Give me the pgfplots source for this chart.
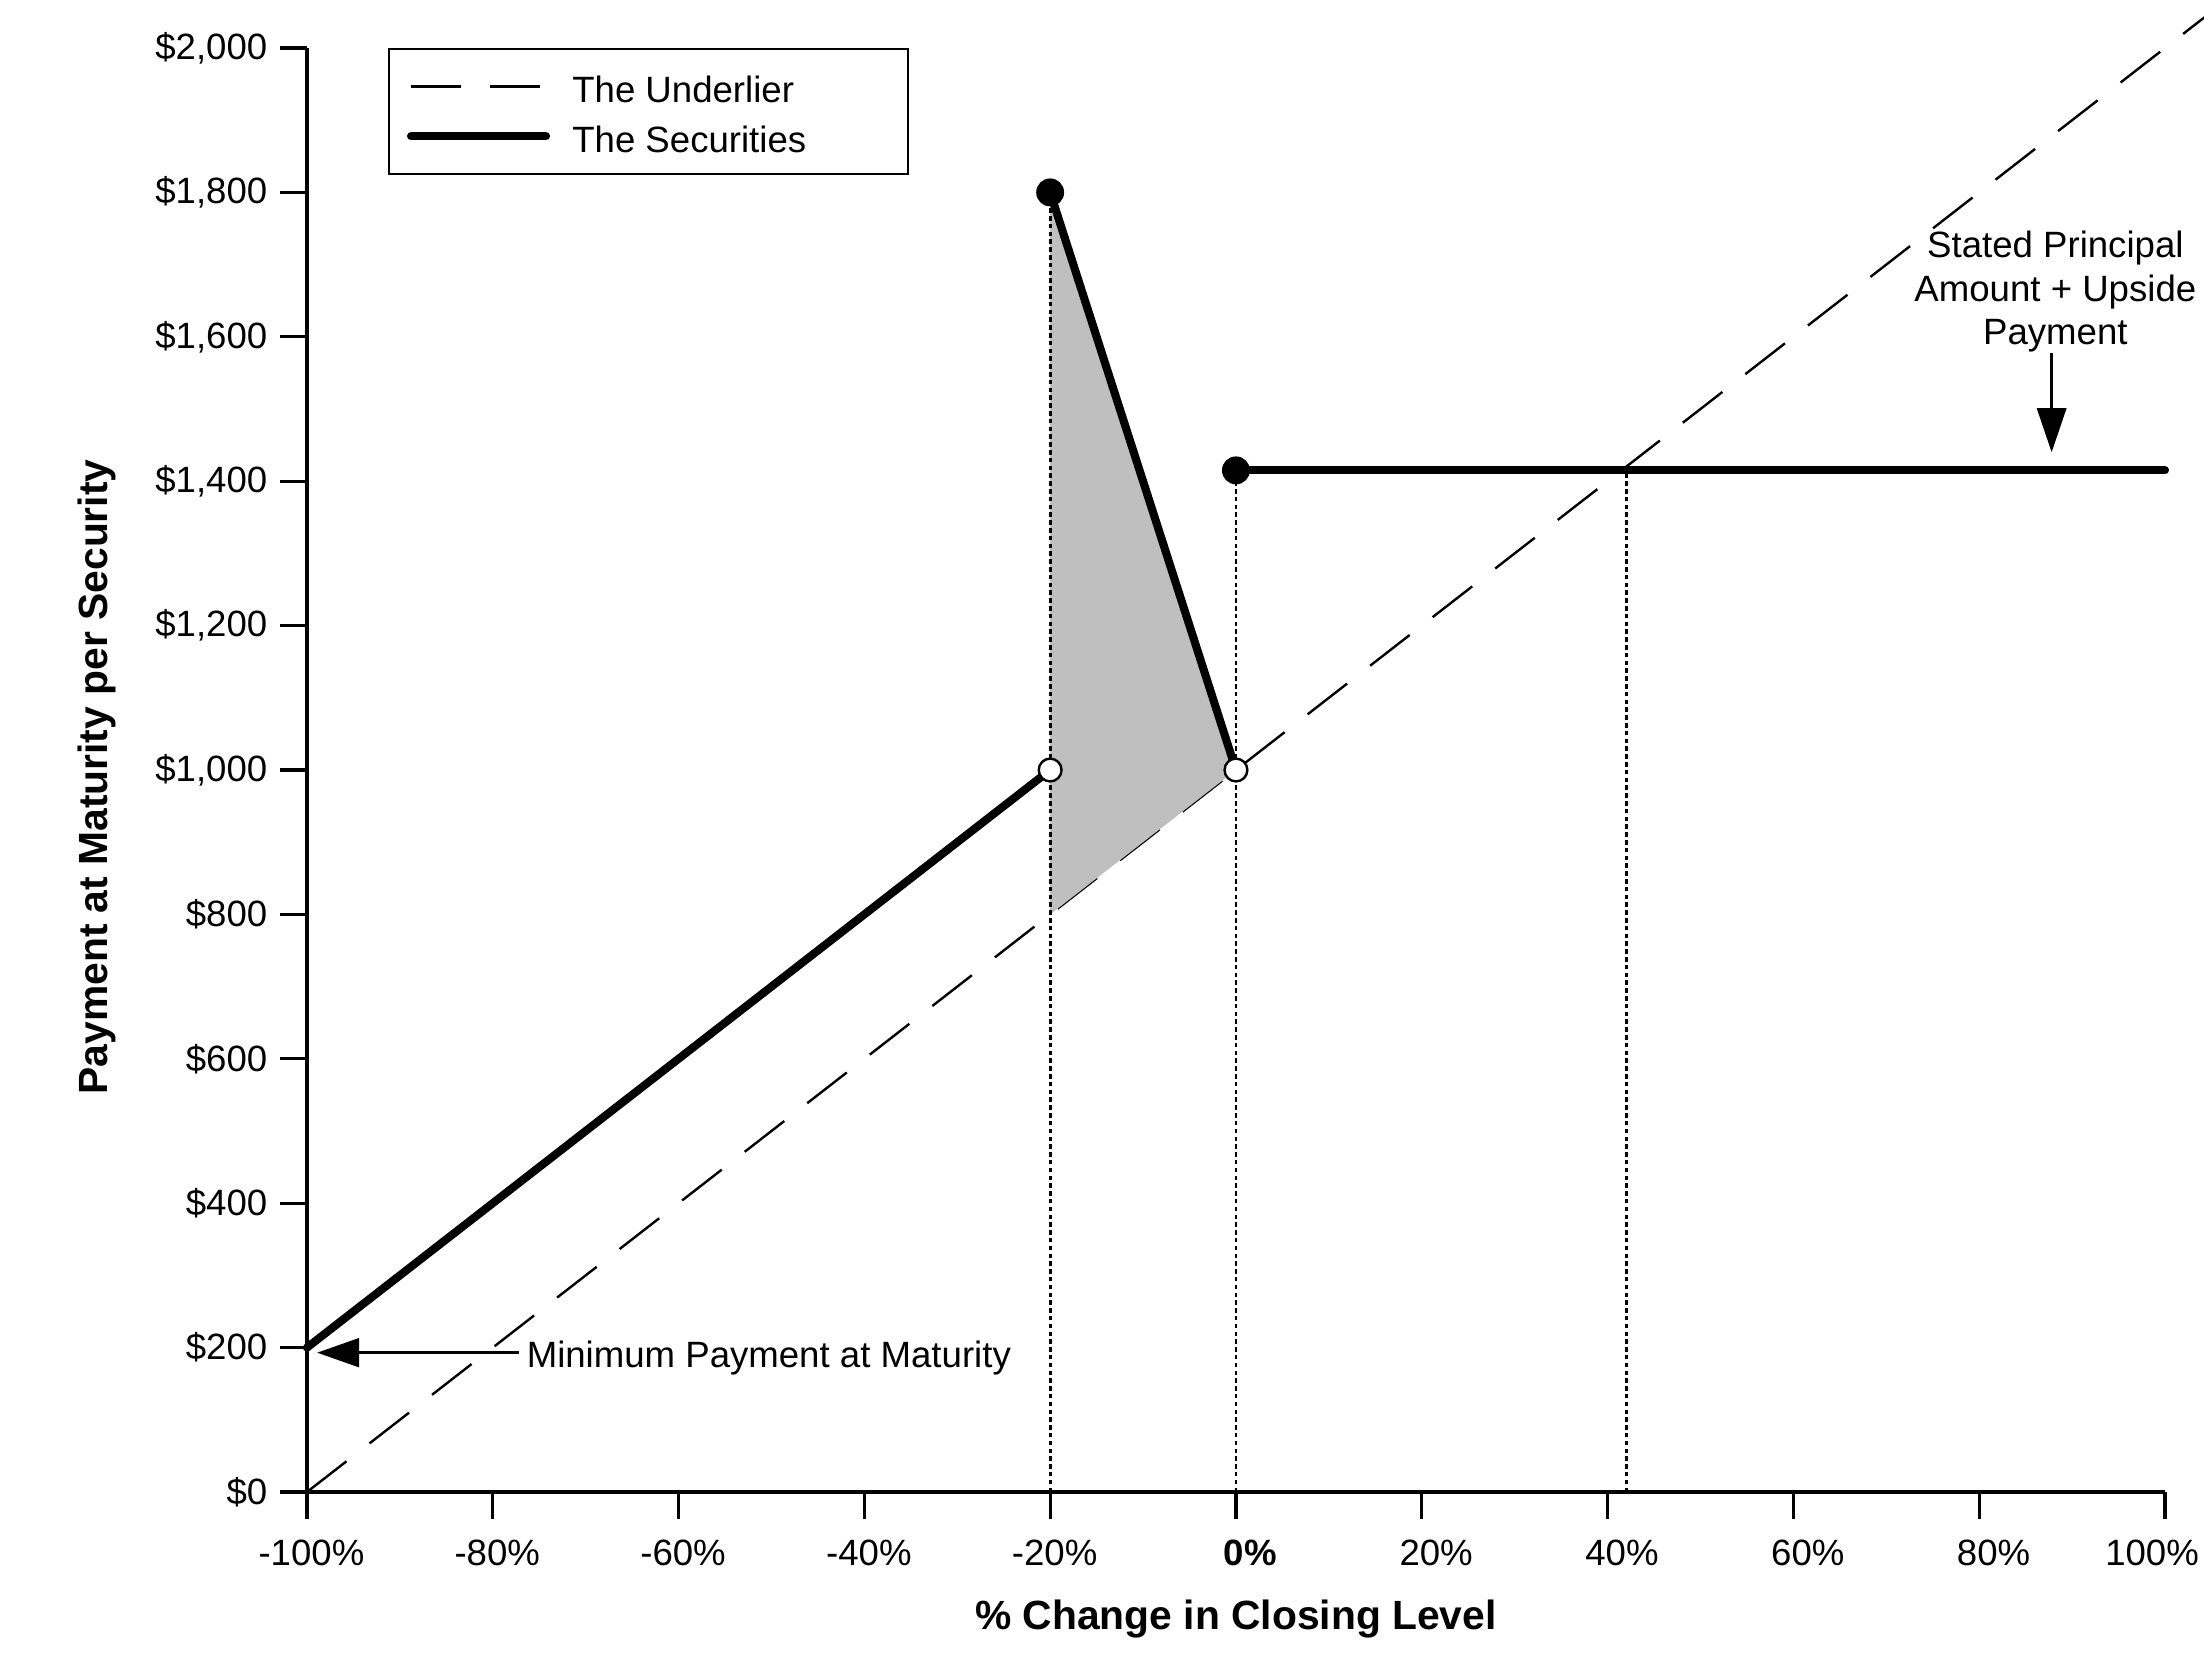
\documentclass[border=0pt]{standalone}
\usepackage{pgfplots}
\pgfplotsset{compat=1.18}
\usepackage{fontspec}
\setmainfont{Liberation Sans}
\usetikzlibrary{arrows.meta}

\begin{document}
\begin{tikzpicture}
\path[use as bounding box] (-102.3pt,-57.3pt) rectangle (632.3pt,497.3pt);
\begin{axis}[
  at={(0,0)}, anchor=south west,
  scale only axis, width=619.3pt, height=481.3pt,
  xmin=-100, xmax=100, ymin=0, ymax=2000,
  axis lines=left,
  axis line style={-, line width=1.1pt},
  clip=false,
  tick align=outside, major tick length=9pt,
  every tick/.style={black, line width=1.1pt},
  xtick={-100,-80,...,100},
  xticklabels={\kern-6.6pt-100\%,\kern-6.6pt-80\%,\kern-6.6pt-60\%,\kern-6.6pt-40\%,\kern-6.6pt-20\%,\textbf{0\%},20\%,40\%,60\%,80\%,\kern-18.2pt100\%},
  ytick={0,200,...,2000},
  yticklabels={\$0,\$200,\$400,\$600,\$800,{\$1,000},{\$1,200},{\$1,400},{\$1,600},{\$1,800},{\$2,000}},
  ticklabel style={font=\fontsize{12.2}{14}\selectfont, inner sep=0pt},
  xticklabel style={anchor=north, xshift=4.8pt, yshift=-6.7pt},
  yticklabel style={anchor=east, xshift=-4pt},
  xlabel={\bfseries\% Change in Closing Level},
  ylabel={\bfseries Payment at Maturity per Security},
  label style={font=\fontsize{13.6}{16}\selectfont},
  xlabel style={at={(axis description cs:0.5,-0.0877)}, anchor=center},
  ylabel style={at={(axis description cs:-0.113,0.4952)}, anchor=center},
  legend cell align=left,
  legend image code/.code={\draw[#1] (0pt,0pt) -- (45pt,0pt);},
  legend style={at={(axis description cs:0.0436,1)}, anchor=north west,
    draw=black, line width=0.7pt, inner xsep=6pt, inner ysep=5.6pt,
    row sep=2.8pt, column sep=7.4pt,
    font=\fontsize{12.2}{14}\selectfont, nodes={inner sep=0pt}},
]
% The Underlier
\addplot[black, line width=0.8pt, dash pattern=on 16.7pt off 9.7pt]
  coordinates {(-100,0) (106,2060)};
\addlegendentry{\rule[-4.7pt]{0pt}{17pt}\makebox[106pt][l]{The Underlier}}
% shaded region
\addplot[fill=black!25, draw=none, forget plot]
  coordinates {(-20,1800) (0,1000) (-20,800)} -- cycle;
% dotted guides
\addplot[forget plot, black, line width=0.9pt, dash pattern=on 1.5pt off 1.1pt]
  coordinates {(-20,0) (-20,1800)};
\addplot[forget plot, black, line width=0.9pt, dash pattern=on 1.5pt off 1.1pt]
  coordinates {(0,0) (0,1415)};
\addplot[forget plot, black, line width=0.9pt, dash pattern=on 1.5pt off 1.1pt]
  coordinates {(42,0) (42,1415)};
% The Securities
\addplot[black, line width=2.7pt, line cap=round]
  coordinates {(-100,200) (-20,1000)};
\addlegendentry{\rule[-4.7pt]{0pt}{17pt}\makebox[106pt][l]{The Securities}}
\addplot[forget plot, black, line width=2.7pt, line cap=round]
  coordinates {(-20,1800) (0,1000)};
\addplot[forget plot, black, line width=2.7pt, line cap=round]
  coordinates {(0,1415) (100,1415)};
% markers
\addplot[forget plot, only marks, mark=*, mark size=4.4pt,
  mark options={fill=black, draw=black, line width=0.5pt}]
  coordinates {(-20,1800) (0,1415)};
\addplot[forget plot, only marks, mark=*, mark size=3.8pt,
  mark options={fill=white, draw=black, line width=0.8pt}]
  coordinates {(-20,1000) (0,1000)};
% annotations
\draw[black, line width=0.9pt, -{Triangle[length=14pt,width=9.6pt]}]
  (axis cs:-77.2,193) -- (axis cs:-98.9,193);
\node[anchor=base west, inner sep=0pt, font=\fontsize{12.2}{14}\selectfont]
  at (axis cs:-76.4,173) {Minimum Payment at Maturity};
\node[anchor=north, inner sep=0pt, align=center, font=\fontsize{12.2}{14.5}\selectfont]
  at (axis cs:88.2,1747) {Stated Principal\\Amount + Upside\\Payment};
\draw[black, line width=1pt, -{Triangle[length=14.7pt,width=9.7pt]}]
  (axis cs:87.8,1577) -- (axis cs:87.8,1440);
\end{axis}
\end{tikzpicture}
\end{document}
